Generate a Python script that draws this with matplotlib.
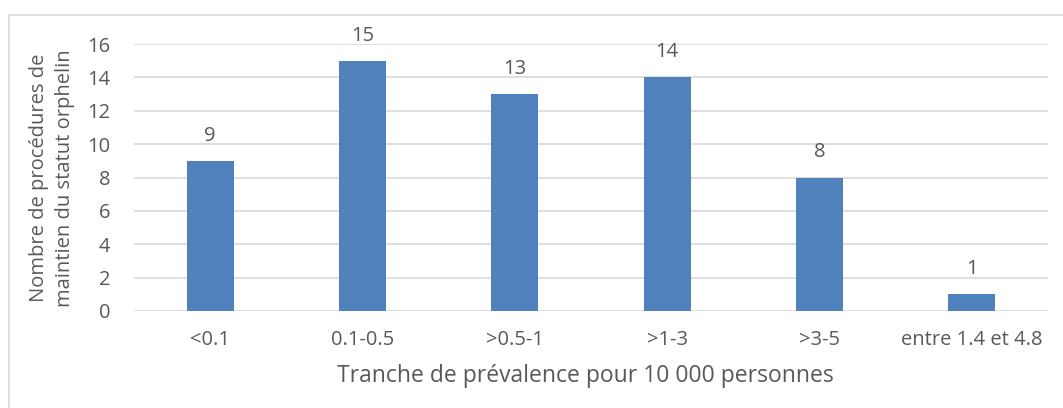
import matplotlib
matplotlib.use("Agg")
import matplotlib.pyplot as plt
from matplotlib.patches import Rectangle

categories = ["<0.1", "0.1-0.5", ">0.5-1", ">1-3", ">3-5", "entre 1.4 et 4.8"]
counts = [9, 15, 13, 14, 8, 1]
y_ticks = [0, 2, 4, 6, 8, 10, 12, 14, 16]

plt.rcParams["font.family"] = ["Open Sans", "DejaVu Sans"]
text_color = "#595959"
bar_color = "#4F81BD"
grid_color = "#D9D9D9"

W, H = 1063, 408
fig = plt.figure(figsize=(W / 100, H / 100), dpi=100)
ax = fig.add_axes([134 / W, 1 - 311 / H, (1048 - 134) / W, (311 - 44) / H])

x = list(range(len(categories)))
ax.bar(x, counts, width=0.31, color=bar_color, zorder=3)
for xi, v in zip(x, counts):
    ax.text(xi, v + 0.9, str(v), ha="center", va="bottom", fontsize=14.5, color=text_color)

ax.set_xlim(-0.5, len(categories) - 0.5)
ax.set_ylim(0, 16)
ax.set_yticks(y_ticks)
ax.set_xticks(x)
ax.set_xticklabels(categories)
ax.tick_params(axis="both", length=0, labelsize=14.5, labelcolor=text_color)
ax.tick_params(axis="x", pad=14)
ax.tick_params(axis="y", pad=17)
ax.grid(axis="y", color=grid_color, linewidth=1.2, zorder=0)
for s in ax.spines.values():
    s.set_visible(False)

fig.text((134 + 1048) / 2 / W - 0.005, 1 - 376 / H, "Tranche de prévalence pour 10 000 personnes",
         fontsize=16.5, color=text_color, ha="center", va="center")
fig.text(52 / W, 1 - 178 / H, "Nombre de procédures de\nmaintien du statut orphelin",
         fontsize=14.5, color=text_color, rotation=90, ha="center", va="center",
         multialignment="center", linespacing=1.4)

fig.patches.append(Rectangle((8.5 / W, -0.1), 1.2, 1 - 14.5 / H + 0.1, transform=fig.transFigure,
                             fill=False, edgecolor=grid_color, linewidth=1.2))

fig.savefig("out.png", dpi=100, facecolor="white")
